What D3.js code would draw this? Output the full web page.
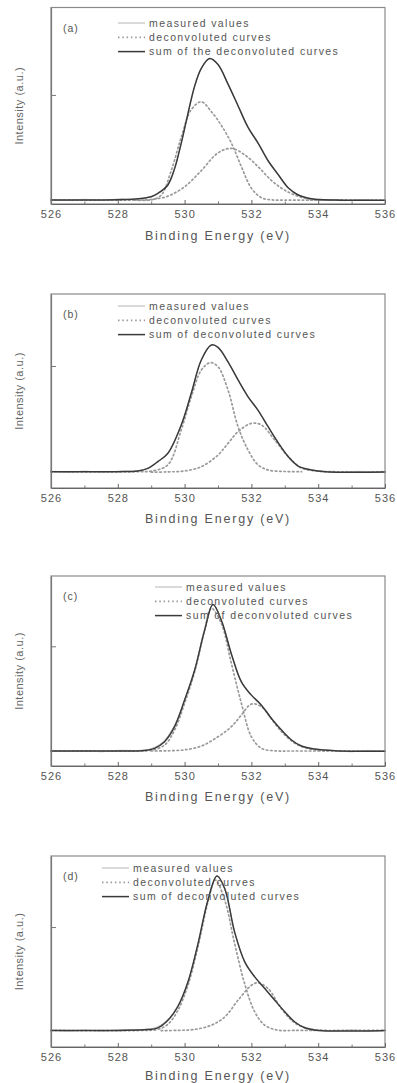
<!DOCTYPE html>
<html>
<head>
<meta charset="utf-8">
<script src="https://cdn.jsdelivr.net/npm/d3@7"></script>
<style>
  body { margin: 0; background: #fff; }
  svg { display: block; font-family: "Liberation Sans", Arial, sans-serif; }
</style>
</head>
<body>
<div id="chart"></div>
<script>
// x ticks (binding energy, eV)
const xMajor = [526, 528, 530, 532, 534, 536];
const xMinor = [527, 529, 531, 533, 535];

// legend texts per panel
const legendA = ["measured values", "deconvoluted curves", "sum of the deconvoluted curves"];
const legendB = ["measured values", "deconvoluted curves", "sum of deconvoluted curves"];
const panelNames = ["(a)", "(b)", "(c)", "(d)"];

// y tick position (intensity, a.u. 0-100 of the frame)
const yTicks = [55.5, 62.9, 63, 62.8];

// ---- panel (a) ----
const measA = [[526,2.3],[526.5,1.8],[527,2.4],[527.5,1.9],[528,2.5],[528.5,2.3],[529,3.9],[529.3,6.5],[529.6,13.5],[529.9,31],[530.2,53],[530.5,69],[530.75,74],[531,71],[531.3,61],[531.6,50],[531.9,39],[532.2,31],[532.5,22],[532.8,15],[533.1,8.5],[533.4,4.8],[533.8,2.5],[534.3,2.2],[534.8,1.7],[535.3,2.3],[535.8,1.8],[536,2.0]];
const sumA = [[526,2.0],[527,2.0],[528,2.2],[528.5,2.5],[529,3.7],[529.2,5.4],[529.5,9.7],[529.7,18],[529.9,31],[530.1,46],[530.3,60],[530.5,69],[530.75,74],[531,71],[531.3,61],[531.6,50],[531.9,39],[532.2,31],[532.5,22],[532.8,15],[533.1,8.3],[533.4,4.6],[533.8,2.7],[534.5,2.0],[535,1.9],[536,1.9]];
const peak1A = [[528.5,2.0],[529,2.1],[529.3,4.5],[529.6,17],[529.9,34],[530.2,48],[530.5,52],[530.8,47],[531.1,40],[531.4,31],[531.7,19],[532,8],[532.3,3.2],[532.6,2.1],[533,2.0],[536,2.0]];
const peak2A = [[526,2.0],[528.5,2.0],[529,2.3],[529.5,4],[530,8.8],[530.5,17],[531,26],[531.4,28.3],[531.8,25],[532.2,19],[532.6,12],[533,7],[533.5,3.4],[534,2.1],[534.5,2.0]];

// ---- panel (b) ----
const measB = [[526,8.6],[526.5,8.1],[527,8.7],[527.5,8.2],[528,8.6],[528.6,8.9],[528.9,10.3],[529.2,13.6],[529.5,18],[529.9,32.5],[530.2,48.8],[530.5,66],[530.8,73.7],[531,72.5],[531.3,65],[531.6,55.7],[531.9,47],[532.2,40],[532.5,31.6],[532.8,23.4],[533.1,16.2],[533.4,11.3],[533.8,9.3],[534.2,8.6],[534.7,8.0],[535.2,8.6],[535.7,8.1],[536,8.4]];
const sumB = [[526,8.4],[528,8.4],[528.6,8.8],[528.9,10.1],[529.2,13.6],[529.5,17.9],[529.9,32.5],[530.2,48.8],[530.5,66],[530.8,73.7],[531,72.5],[531.3,65],[531.6,55.7],[531.9,47],[532.2,40],[532.5,31.6],[532.8,23.4],[533.1,16.2],[533.4,11.3],[533.8,9.3],[534.2,8.4],[536,8.2]];
const peak1B = [[526,8.4],[528.6,8.4],[529,8.7],[529.5,12],[529.9,30],[530.2,47],[530.5,60.8],[530.77,64.6],[531,62.5],[531.3,50.5],[531.6,31.6],[531.9,19.6],[532.2,11.9],[532.5,9.3],[533,8.5],[533.5,8.4]];
const peak2B = [[529,8.2],[529.5,8.3],[530,8.8],[530.5,11],[531,17],[531.3,23],[531.6,29],[532,33.3],[532.3,32.5],[532.7,24.7],[533.1,16.2],[533.5,10.3],[534,8.7],[534.5,8.4],[536,8.4]];

// ---- panel (c) ----
const measC = [[526,8.2],[526.5,7.6],[527,8.1],[527.5,7.5],[528,8.2],[528.8,8.4],[529.1,9.8],[529.4,13.5],[529.7,21.5],[530,34.7],[530.3,50.4],[530.6,71.5],[530.85,85],[531.1,76.7],[531.4,59],[531.7,44.3],[532,37.3],[532.3,32],[532.6,25],[532.9,18.9],[533.2,13.7],[533.5,10.5],[533.9,8.9],[534.5,8.1],[535,7.5],[535.5,8.2],[536,7.7]];
const sumC = [[526,7.9],[528,7.9],[528.8,8.2],[529.1,9.3],[529.4,12.8],[529.7,20.7],[530,34.7],[530.3,50.4],[530.6,71.5],[530.85,85],[531.1,76.7],[531.4,59],[531.7,44.3],[532,37.3],[532.3,32],[532.6,25],[532.9,18.9],[533.2,13.7],[533.5,10.5],[533.9,8.9],[534.5,8],[536,7.7]];
const peak1C = [[526,7.9],[528.6,7.9],[529,8.3],[529.4,11],[529.7,18.9],[530,33],[530.3,49.6],[530.6,71.5],[530.8,83],[531.1,75],[531.4,54],[531.7,33],[532,15.4],[532.3,9.3],[532.7,8],[533.2,7.9],[534,7.9]];
const peak2C = [[529,7.9],[529.5,8],[530,8.5],[530.5,10.5],[531,15.4],[531.4,20.7],[531.7,26.8],[532,32.6],[532.3,31.2],[532.7,22.4],[533,16.3],[533.4,11],[534,8.1],[534.5,7.9],[536,7.9]];

// ---- panel (d) ----
const measD = [[526,8.9],[526.5,8.3],[527,8.8],[527.5,8.4],[528,8.9],[528.9,9.4],[529.2,10.6],[529.5,14.5],[529.8,21.3],[530.1,34],[530.4,54],[530.7,77],[530.97,89.5],[531.2,83],[531.5,60],[531.8,44.6],[532.1,36.7],[532.4,30.6],[532.7,24.5],[533,18.4],[533.3,13.1],[533.6,10.1],[534,8.9],[534.5,8.4],[535,8.9],[535.5,8.4],[536,8.8]];
const sumD = [[526,8.6],[528,8.7],[528.9,9.1],[529.2,10],[529.5,14],[529.8,21.3],[530.1,34],[530.4,54],[530.7,77],[530.97,89.5],[531.2,83],[531.5,60],[531.8,44.6],[532.1,36.7],[532.4,30.6],[532.7,24.5],[533,18.4],[533.3,13.1],[533.6,10.1],[534,8.7],[536,8.7]];
const peak1D = [[526,8.7],[528.8,8.7],[529.2,9.2],[529.5,11.9],[529.8,19.2],[530.1,32.3],[530.4,52.4],[530.7,76],[530.92,87.4],[531.2,77],[531.5,54],[531.8,33],[532.1,18.4],[532.4,11.4],[532.8,8.8],[533.3,8.7],[534,8.7]];
const peak2D = [[529.3,8.6],[529.8,8.7],[530.3,9.2],[530.8,11.4],[531.2,15.7],[531.6,24.5],[532,32.3],[532.2,33.6],[532.5,30.6],[532.9,20],[533.3,12.6],[533.7,9.6],[534.2,8.7],[534.7,8.7],[536,8.7]];

// layout of the four frames
const layout = [
  { top: 7.5, bottom: 204, legX: 118, legDy: 15.5, titleDy: 36, legend: legendA, meas: measA, sum: sumA, p1: peak1A, p2: peak2A },
  { top: 294, bottom: 488, legX: 118, legDy: 12, titleDy: 35, legend: legendB, meas: measB, sum: sumB, p1: peak1B, p2: peak2B },
  { top: 576, bottom: 766, legX: 155, legDy: 11, titleDy: 35, legend: legendB, meas: measC, sum: sumC, p1: peak1C, p2: peak2C },
  { top: 856, bottom: 1047, legX: 102, legDy: 12, titleDy: 32.5, legend: legendB, meas: measD, sum: sumD, p1: peak1D, p2: peak2D }
];

const W = 397, H = 1083;
const left = 51, right = 385;

const svg = d3.select("#chart").append("svg")
  .attr("width", W).attr("height", H);

const x = d3.scaleLinear().domain([526, 536]).range([left, right]);

const styles = {
  meas: { stroke: "#b4b4b4", width: 1, dash: null },
  dec: { stroke: "#9a9a9a", width: 1.7, dash: "1.5,2.8" },
  sum: { stroke: "#3a3a3a", width: 1.5, dash: null }
};

layout.forEach((p, i) => {
  const y = d3.scaleLinear().domain([0, 100]).range([p.bottom, p.top]);
  const g = svg.append("g");

  const line = d3.line()
    .x(d => x(d[0]))
    .y(d => y(d[1]))
    .curve(d3.curveCatmullRom.alpha(0.5));

  // curves
  [[p.p1, styles.dec], [p.p2, styles.dec], [p.meas, styles.meas], [p.sum, styles.sum]].forEach(([data, s]) => {
    g.append("path")
      .datum(data)
      .attr("d", line)
      .attr("fill", "none")
      .attr("stroke", s.stroke)
      .attr("stroke-width", s.width)
      .attr("stroke-linecap", "round")
      .attr("stroke-dasharray", s.dash);
  });

  // frame
  g.append("rect")
    .attr("x", left).attr("y", p.top)
    .attr("width", right - left).attr("height", p.bottom - p.top)
    .attr("fill", "none")
    .attr("stroke", "#8a8a8a")
    .attr("stroke-width", 1.2);

  // x axis
  const xAxis = d3.axisBottom(x)
    .tickValues(xMajor)
    .tickSize(-4)
    .tickSizeOuter(0)
    .tickPadding(6)
    .tickFormat(d3.format("d"));

  const ax = g.append("g")
    .attr("transform", `translate(0,${p.bottom})`)
    .call(xAxis);
  ax.select(".domain").attr("stroke", "#666").attr("stroke-width", 1.2);
  ax.selectAll(".tick line").attr("stroke", "#666");
  ax.selectAll(".tick text")
    .attr("fill", "#555")
    .attr("font-size", 11)
    .attr("letter-spacing", "1px")
    .attr("font-family", "Liberation Sans, Arial, sans-serif");

  g.append("g")
    .attr("transform", `translate(0,${p.bottom})`)
    .call(d3.axisBottom(x).tickValues(xMinor).tickSize(-2.5).tickSizeOuter(0).tickFormat(""))
    .call(a => a.select(".domain").remove())
    .selectAll(".tick line").attr("stroke", "#777");

  // y axis (single inner tick)
  g.append("g")
    .attr("transform", `translate(${left},0)`)
    .call(d3.axisLeft(y).tickValues([yTicks[i]]).tickSize(-5).tickSizeOuter(0).tickFormat(""))
    .call(a => a.select(".domain").attr("stroke", "#777").attr("stroke-width", 1.2))
    .selectAll(".tick line").attr("stroke", "#777");

  // axis titles
  g.append("text")
    .attr("x", 218).attr("y", p.bottom + p.titleDy)
    .attr("text-anchor", "middle")
    .attr("font-size", 12.5)
    .attr("letter-spacing", "1.8px")
    .attr("fill", "#555")
    .text("Binding Energy (eV)");

  g.append("text")
    .attr("transform", `translate(23,${(p.top + p.bottom) / 2}) rotate(-90)`)
    .attr("text-anchor", "middle")
    .attr("font-size", 11)
    .attr("letter-spacing", "0.5px")
    .attr("fill", "#666")
    .text("Intensity (a.u.)");

  // panel tag
  g.append("text")
    .attr("x", 63).attr("y", p.top + 24)
    .attr("font-size", 10.5)
    .attr("letter-spacing", "1px")
    .attr("fill", "#555")
    .text(panelNames[i]);

  // legend
  const legStyles = [styles.meas, styles.dec, styles.sum];
  p.legend.forEach((label, k) => {
    const ly = p.top + p.legDy + k * 14.3;
    const s = legStyles[k];
    g.append("line")
      .attr("x1", p.legX).attr("x2", p.legX + 27)
      .attr("y1", ly).attr("y2", ly)
      .attr("stroke", s.stroke)
      .attr("stroke-width", s.width)
      .attr("stroke-dasharray", s.dash);
    g.append("text")
      .attr("x", p.legX + 31).attr("y", ly + 3.6)
      .attr("font-size", 10.5)
      .attr("letter-spacing", "1.4px")
      .attr("fill", "#555")
      .text(label);
  });
});
</script>
</body>
</html>
